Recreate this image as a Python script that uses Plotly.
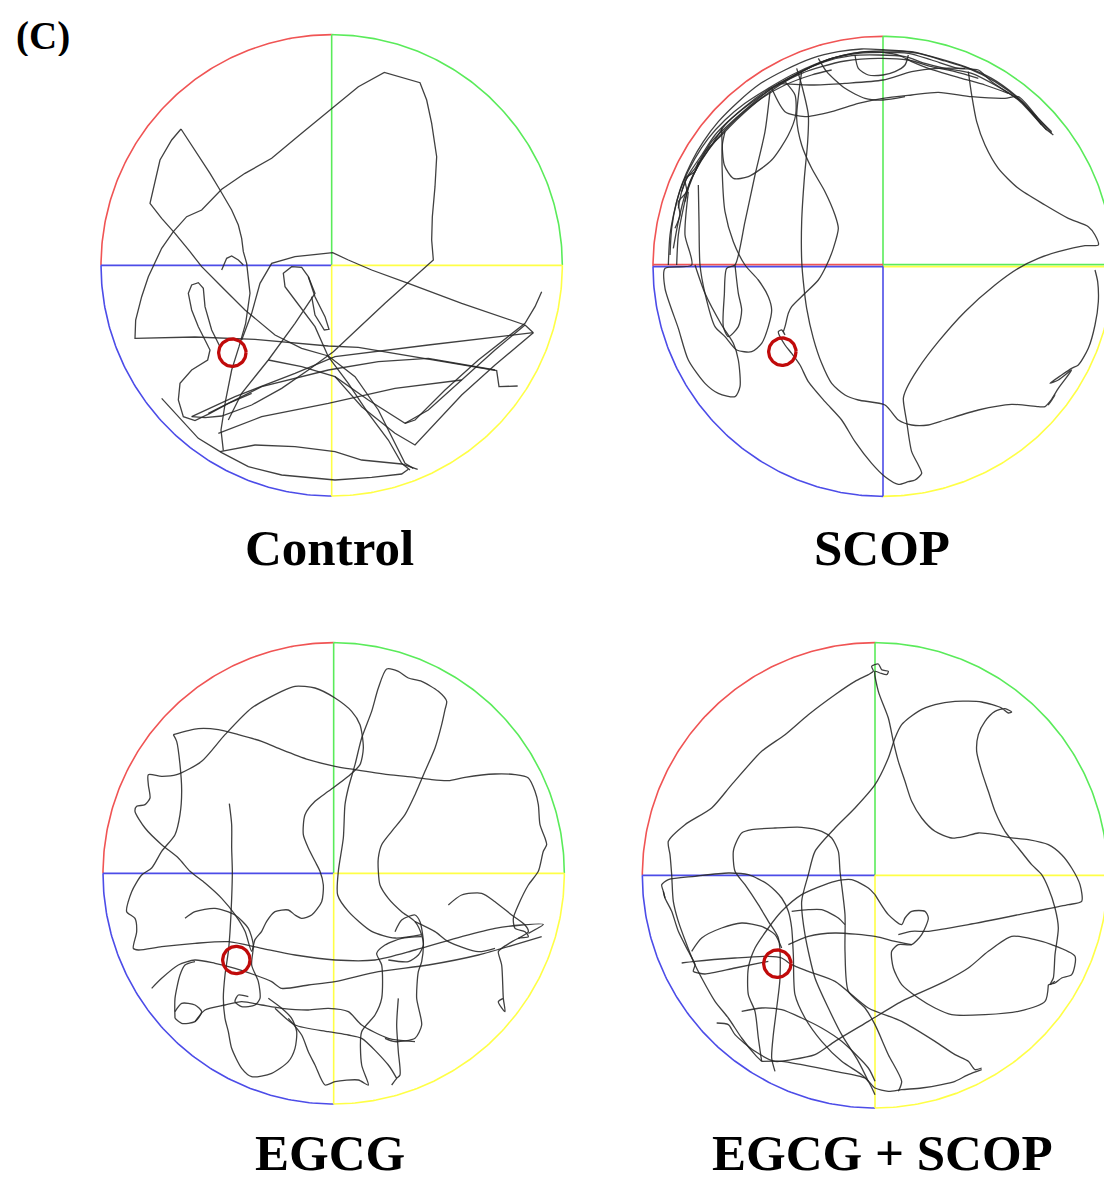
import numpy as np
import plotly.graph_objects as go

# ---------------------------------------------------------------------------
# Morris water maze probe-trial swim paths (tracking-camera units, y down)
# ---------------------------------------------------------------------------
GROUP_LABELS = ["Control", "SCOP", "EGCG", "EGCG + SCOP"]
PANEL_LABEL = "(C)"

# pool calibration in camera units: centre x, centre y, radius
POOL_CENTRES = [(710, 706), (714, 694), (716, 706), (720, 712)]
POOL_RADII = [692, 690, 692, 698]
# hidden platform (target quadrant: bottom-left) in camera units
PLATFORM_CENTRES = [(412, 968), (412, 950), (424, 966), (427, 977)]
PLATFORM_RADIUS = 41

CONTROL_PATHS = [
    [(1268, 1068), (1212, 1070), (1205, 1022), (1000, 988), (790, 952), (700, 948), (480, 928), (300, 921),
     (150, 925), (120, 925), (122, 870), (140, 800), (160, 740), (178, 700), (200, 655), (235, 605), (275, 560),
     (320, 540), (380, 478), (450, 430), (530, 385), (620, 310), (715, 232), (790, 170), (868, 127), (975, 158),
     (995, 210), (1010, 280), (1025, 380), (1020, 470), (1012, 560), (1010, 630), (1015, 690), (990, 712),
     (950, 748), (870, 820), (790, 895), (715, 965), (640, 1020), (560, 1075), (470, 1125), (380, 1158),
     (330, 1163), (290, 1160)],
    [(258, 297), (230, 330), (195, 390), (180, 460), (165, 520), (200, 565), (240, 610), (285, 665), (320, 710),
     (380, 770), (450, 840), (540, 915), (620, 955), (700, 978), (780, 1040), (850, 1140), (905, 1250),
     (930, 1300), (955, 1315)],
    [(258, 297), (300, 360), (345, 430), (375, 480), (410, 540), (430, 585), (440, 625), (445, 665), (455, 700),
     (465, 790), (452, 880), (432, 950), (410, 1020), (392, 1110), (378, 1200), (385, 1262)],
    [(440, 930), (470, 850), (495, 760), (530, 700), (600, 680), (713, 668), (760, 690), (830, 720), (940, 760),
     (1100, 820), (1290, 885), (1200, 960), (1100, 1050), (1000, 1140), (930, 1180), (820, 1110), (720, 1040),
     (620, 1010), (520, 990)],
    [(400, 1170), (440, 1090), (520, 990), (600, 880), (660, 790), (640, 740), (620, 712), (590, 710),
     (565, 730), (570, 770), (600, 810), (660, 890), (700, 980), (760, 1060), (820, 1150), (880, 1230),
     (920, 1300), (945, 1320)],
    [(640, 740), (660, 800), (690, 860), (702, 898), (688, 900), (660, 855), (650, 800)],
    [(470, 1090), (400, 1120), (345, 1150), (300, 1172), (265, 1160), (250, 1110), (255, 1060), (290, 1020),
     (338, 990), (345, 960), (330, 930), (310, 890), (290, 840), (280, 790), (290, 765), (310, 758), (325, 775),
     (330, 830), (350, 900), (375, 950)],
    [(200, 1105), (250, 1160), (310, 1225), (380, 1268), (460, 1310), (560, 1335), (720, 1350), (830, 1342),
     (920, 1332), (940, 1318)],
    [(375, 1265), (480, 1245), (600, 1250), (720, 1265), (800, 1290), (920, 1302), (968, 1318)],
    [(290, 1160), (420, 1100), (600, 1030), (720, 980), (1000, 945), (1315, 908), (1290, 885)],
    [(340, 1150), (500, 1070), (700, 1020), (850, 995), (1000, 985), (1200, 1020)],
    [(1340, 785), (1320, 830), (1290, 880), (1150, 990), (1050, 1080), (960, 1170), (930, 1180)],
    [(1315, 908), (1200, 1005), (1100, 1095), (960, 1245), (900, 1210), (800, 1130), (720, 1040)],
    [(370, 1210), (500, 1160), (700, 1120), (900, 1075), (1100, 1050)],
    [(380, 720), (395, 685), (410, 678), (430, 690), (445, 705)],
]

SCOP_PATHS = [
    [(70, 690), (75, 600), (90, 520), (110, 450), (140, 380), (175, 320), (220, 260), (280, 200), (340, 150),
     (420, 105), (500, 70), (580, 50), (650, 42), (714, 44), (800, 50), (880, 70), (960, 95), (1040, 130),
     (1110, 180), (1170, 240), (1220, 295)],
    [(95, 690), (100, 600), (115, 520), (130, 460), (160, 390), (200, 330), (240, 270), (300, 215), (360, 170),
     (430, 130), (500, 95), (560, 70), (640, 55), (714, 52), (790, 55), (860, 75), (940, 100), (1000, 105),
     (1040, 140), (1100, 180), (1130, 200), (1200, 280), (1225, 300)],
    [(120, 500), (135, 440), (165, 380), (200, 320), (250, 270), (300, 225), (380, 160), (450, 120), (520, 85),
     (600, 60), (680, 50), (760, 60), (800, 80), (850, 100), (950, 130), (1020, 150), (1090, 175)],
    [(85, 640), (100, 560), (120, 480), (150, 410), (190, 345), (240, 285), (310, 220), (390, 160), (470, 110),
     (540, 80), (620, 62), (700, 60), (780, 65), (840, 85), (900, 100), (980, 115), (1050, 150), (1120, 195),
     (1190, 270)],
    [(110, 470), (125, 430), (150, 400), (180, 350), (230, 300), (280, 250), (350, 190), (420, 150), (500, 120),
     (560, 105)],
    [(75, 660), (80, 580), (95, 500), (115, 440), (150, 370), (190, 310), (240, 255), (300, 205), (370, 160),
     (440, 120), (510, 88), (590, 62), (660, 50), (740, 48), (820, 55), (900, 78), (970, 100), (1050, 140),
     (1130, 200), (1205, 285)],
    [(100, 520), (110, 470), (130, 420), (170, 360), (210, 300), (260, 250), (330, 195), (400, 150), (470, 115),
     (530, 95), (600, 78), (700, 70), (790, 75), (860, 95), (930, 110), (1000, 130)],
    [(90, 580), (105, 540), (100, 500), (125, 470), (120, 430), (150, 410), (160, 380)],
    [(380, 160), (420, 230), (480, 245), (560, 230), (640, 205), (714, 190), (800, 180), (880, 172), (980, 185),
     (1080, 190), (1120, 185), (1180, 250), (1220, 290)],
    [(400, 145), (500, 150), (600, 145), (714, 135), (800, 110), (880, 100), (960, 100)],
    [(520, 70), (545, 110), (600, 160), (660, 190), (714, 195), (780, 185)],
    [(630, 60), (640, 100), (670, 120), (714, 120), (750, 110), (780, 90), (790, 60)],
    [(970, 110), (980, 180), (995, 260), (1020, 330), (1060, 400), (1120, 460), (1200, 510), (1270, 550),
     (1330, 575), (1350, 600), (1360, 630), (1320, 632), (1240, 650), (1180, 670), (1120, 700), (1050, 750),
     (960, 830), (880, 920), (820, 1000), (785, 1060), (775, 1090), (785, 1160), (800, 1250), (820, 1290),
     (830, 1315), (810, 1335), (790, 1340), (760, 1348), (720, 1325), (680, 1285), (630, 1220), (590, 1155),
     (540, 1100), (490, 1040), (465, 990), (440, 955), (420, 930), (400, 890), (410, 885), (420, 900)],
    [(1350, 705), (1358, 740), (1360, 800), (1350, 870), (1330, 940), (1300, 990), (1280, 1000), (1250, 1020),
     (1215, 1045), (1240, 1035), (1280, 1005), (1240, 1060), (1210, 1110), (1230, 1080), (1200, 1115),
     (1180, 1115), (1100, 1108), (1000, 1125), (900, 1155), (850, 1170), (800, 1170), (760, 1155), (720, 1110),
     (640, 1095), (600, 1080), (560, 1045), (530, 985), (505, 910), (485, 820), (475, 740), (470, 675),
     (470, 560), (478, 430), (488, 320), (490, 240), (470, 150), (455, 100)],
    [(470, 110), (455, 250), (470, 330), (500, 400), (540, 470), (570, 540), (580, 580), (565, 640), (545, 690),
     (520, 735), (480, 775), (440, 815), (430, 835), (420, 875), (415, 890)],
    [(160, 450), (162, 560), (165, 690), (180, 775), (210, 875), (240, 905), (275, 945), (320, 950), (350, 925),
     (370, 875), (380, 825), (370, 785), (340, 735), (300, 690), (265, 620), (240, 530), (232, 420), (232, 330),
     (240, 290)],
    [(130, 470), (120, 600), (140, 690), (60, 700), (60, 760), (100, 880), (130, 975), (180, 1045), (220, 1075),
     (270, 1085), (285, 1055), (280, 975), (265, 925), (230, 870), (180, 775), (150, 690)],
    [(375, 170), (360, 290), (330, 420), (300, 560), (270, 690), (245, 700), (238, 780), (235, 875), (250, 905),
     (280, 875), (290, 825), (280, 775), (270, 690)],
    [(230, 280), (238, 390), (265, 430), (310, 425), (380, 375), (430, 300), (452, 240), (450, 180), (420, 140)],
]

EGCG_PATHS = [
    [(980, 890), (900, 900), (830, 880), (760, 820), (728, 771), (730, 700), (745, 600), (750, 500), (760, 450),
     (780, 380), (800, 300), (830, 220), (850, 150), (875, 93), (910, 100), (940, 120), (980, 130), (1030, 160),
     (1055, 190), (1050, 215), (1040, 260), (1020, 330), (990, 400), (960, 470), (930, 530), (890, 580),
     (860, 620), (850, 660), (850, 700), (855, 741), (880, 781), (920, 821), (960, 851), (980, 891), (985, 921),
     (970, 951), (940, 971), (880, 966)],
    [(470, 940), (450, 880), (420, 830), (380, 781), (330, 735), (285, 700), (250, 660), (200, 620), (150, 570),
     (120, 520), (125, 505), (150, 500), (165, 480), (160, 440), (160, 410), (200, 415), (245, 410), (320, 370),
     (390, 290), (470, 210), (560, 160), (600, 145), (660, 150), (720, 180), (770, 220), (795, 260), (805, 330),
     (795, 380), (760, 415), (700, 460), (660, 490), (630, 530), (625, 590), (640, 630), (660, 670), (675, 700),
     (685, 741), (680, 791), (650, 831), (620, 841), (600, 831), (580, 816), (540, 821), (515, 850), (500, 880),
     (480, 905), (470, 940)],
    [(235, 290), (310, 272), (370, 275), (430, 290), (500, 310), (560, 335), (640, 365), (720, 385), (780, 395),
     (880, 410), (960, 418), (1010, 425), (1060, 428), (1110, 418), (1200, 408), (1260, 410), (1300, 420),
     (1320, 460), (1330, 500), (1335, 560), (1350, 600), (1355, 620), (1345, 640), (1330, 700), (1300, 741),
     (1270, 801), (1255, 841), (1260, 871), (1290, 881), (1300, 896), (1270, 901), (1220, 931), (1210, 941),
     (1220, 981), (1225, 1081), (1230, 1121), (1210, 1091), (1225, 1081)],
    [(235, 290), (245, 310), (255, 380), (260, 460), (255, 530), (240, 590), (200, 640), (170, 690), (140, 711),
     (110, 761), (95, 821), (120, 841), (125, 881), (115, 931), (130, 936), (200, 926), (300, 916), (400, 911),
     (500, 931), (600, 951), (720, 966), (840, 966), (960, 936), (1100, 896), (1200, 871), (1280, 861),
     (1345, 859), (1300, 886)],
    [(403, 497), (410, 560), (410, 630), (412, 700), (410, 781), (405, 881), (400, 941), (390, 1011), (385, 1081),
     (390, 1141), (400, 1181), (410, 1231), (440, 1291), (470, 1316), (530, 1306), (580, 1271), (600, 1231),
     (605, 1181), (590, 1141), (560, 1111), (520, 1081)],
    [(270, 841), (300, 821), (360, 811), (420, 831), (460, 871), (475, 921), (470, 981), (490, 1031), (495, 1081),
     (480, 1101), (440, 1106), (420, 1091), (430, 1071), (460, 1076)],
    [(170, 1051), (200, 1021), (250, 981), (300, 966), (360, 976), (420, 991), (480, 1011), (530, 1031),
     (560, 1051), (640, 1041), (720, 1031), (850, 1001), (1000, 981), (1150, 951), (1340, 896)],
    [(300, 1151), (330, 1116), (390, 1101), (440, 1091), (500, 1101), (560, 1111), (640, 1116), (700, 1111),
     (760, 1121), (800, 1161), (880, 1201), (960, 1211)],
    [(240, 1141), (240, 1081), (255, 1011), (270, 981), (300, 971)],
    [(240, 1141), (260, 1156), (300, 1151), (320, 1121), (300, 1101), (260, 1096), (240, 1121)],
    [(580, 1141), (620, 1191), (640, 1241), (660, 1281), (690, 1341), (720, 1331), (790, 1326), (820, 1341),
     (800, 1281), (800, 1181), (840, 1131), (860, 1081), (860, 981), (845, 946), (870, 921), (920, 901),
     (980, 896)],
    [(900, 881), (920, 846), (960, 831), (975, 851), (985, 911), (980, 971), (970, 1001), (965, 1081),
     (980, 1161), (960, 1201), (900, 1211), (870, 1201)],
    [(910, 1081), (905, 1161), (910, 1241), (915, 1311), (905, 1321), (890, 1341)],
    [(1060, 801), (1100, 771), (1160, 766), (1200, 791), (1250, 831), (1290, 861), (1300, 881), (1270, 901)],
    [(540, 1111), (600, 1161), (700, 1181), (760, 1191), (800, 1201), (880, 1281), (905, 1321)],
    [(960, 851), (1020, 881), (1060, 911), (1150, 941), (1200, 931)],
]

EGCG_SCOP_PATHS = [
    [(380, 1270), (360, 1250), (320, 1200), (280, 1140), (240, 1090), (200, 1020), (175, 970), (130, 850),
     (115, 790), (110, 710), (105, 650), (100, 610), (150, 560), (230, 510), (290, 440), (380, 340), (450, 290),
     (520, 230), (600, 170), (660, 130), (700, 110), (715, 100), (710, 85), (730, 78), (740, 95), (760, 100),
     (755, 110), (735, 105), (720, 100), (730, 160), (760, 240), (775, 310), (790, 370), (810, 430), (830, 490),
     (860, 540), (900, 580), (950, 600), (990, 595), (1030, 585), (1080, 590), (1120, 598), (1180, 605),
     (1240, 620), (1280, 650), (1310, 690), (1335, 740), (1340, 790), (1300, 800), (1200, 820), (1000, 860),
     (880, 880), (830, 880), (790, 890)],
    [(700, 1330), (670, 1270), (620, 1190), (580, 1110), (540, 1020), (510, 890), (500, 790), (520, 710),
     (540, 640), (600, 570), (660, 510), (720, 440), (760, 360), (780, 300), (800, 260), (850, 220), (900, 200),
     (960, 190), (1040, 192), (1100, 210), (1120, 225), (1130, 222), (1110, 212), (1080, 220), (1050, 250),
     (1030, 290), (1025, 340), (1040, 400), (1060, 460), (1080, 520), (1110, 580), (1150, 630), (1190, 680),
     (1220, 710), (1240, 750), (1260, 810), (1270, 870), (1260, 950), (1255, 1020), (1245, 1040), (1260, 1030)],
    [(790, 1360), (800, 1330), (760, 1250), (720, 1160), (690, 1110), (640, 1060), (630, 940), (630, 830),
     (615, 700), (610, 640), (590, 600), (560, 580), (500, 568), (420, 570), (350, 575), (320, 585), (305, 610),
     (295, 640), (300, 700), (330, 740), (370, 800), (400, 850), (430, 900), (435, 1020), (425, 1110),
     (415, 1190), (410, 1260), (420, 1300)],
    [(90, 780), (85, 760), (80, 740), (100, 725), (180, 715), (280, 705), (340, 710), (400, 740), (440, 780),
     (460, 820), (470, 870), (475, 950), (480, 1070), (510, 1140), (560, 1210), (620, 1270), (680, 1310),
     (700, 1330), (720, 1370)],
    [(85, 760), (90, 780), (110, 820), (130, 880), (160, 940), (180, 980), (175, 1000), (190, 1005), (210, 1008),
     (300, 990), (400, 970)],
    [(140, 975), (180, 970), (300, 960), (400, 955), (440, 960), (470, 980), (520, 1000), (600, 1030),
     (700, 1110), (800, 1150), (900, 1210), (960, 1250), (1000, 1270), (1020, 1295), (1040, 1290)],
    [(245, 1155), (280, 1160), (300, 1190), (360, 1240), (420, 1270), (470, 1265), (540, 1250), (600, 1210),
     (700, 1150), (800, 1090), (930, 1030), (1000, 990), (1060, 940), (1130, 895), (1200, 905), (1250, 920),
     (1320, 955), (1310, 1010), (1280, 1020), (1260, 1035), (1240, 1040)],
    [(380, 1270), (440, 1270), (500, 1280), (600, 1300), (690, 1320), (720, 1350), (760, 1360), (800, 1355),
     (860, 1350), (920, 1340), (960, 1330), (1000, 1310), (1040, 1295)],
    [(320, 1120), (380, 1110), (440, 1115), (500, 1140), (560, 1170), (620, 1210), (700, 1290), (720, 1330)],
    [(720, 770), (760, 830), (800, 860), (810, 840), (830, 820), (870, 820), (880, 840), (860, 890), (830, 920),
     (790, 920), (770, 940), (775, 990), (800, 1040), (850, 1080), (900, 1110), (950, 1130), (1050, 1130),
     (1150, 1120), (1230, 1090), (1240, 1040)],
    [(720, 770), (700, 750), (650, 725), (600, 730), (500, 770), (440, 820), (400, 870), (360, 930), (340, 990),
     (340, 1070), (360, 1120), (370, 1200), (380, 1270)],
    [(460, 920), (520, 895), (600, 885), (720, 895), (780, 910), (830, 920)],
    [(470, 820), (520, 815), (560, 815), (610, 840), (630, 860)],
    [(170, 940), (200, 900), (260, 870), (320, 855), (380, 865), (420, 890), (440, 930)],
]

ALL_PATHS = [CONTROL_PATHS, SCOP_PATHS, EGCG_PATHS, EGCG_SCOP_PATHS]

# ---------------------------------------------------------------------------
# page placement of each camera frame (top-left, px) and camera -> px scale
# ---------------------------------------------------------------------------
W, H = 1104, 1178
FRAME_ORIGINS = [(95, 30), (645, 35), (95, 638), (635, 638)]
PX_PER_UNIT = 1 / 3
LABEL_POS = [(329, 548), (882, 548), (330, 1153), (882, 1153)]

RED, GREEN, BLUE, YELLOW = "rgb(240,84,84)", "rgb(90,235,90)", "rgb(76,76,232)", "rgb(255,255,70)"
QUAD_ARCS = [((90, 180), RED), ((0, 90), GREEN), ((180, 270), BLUE), ((270, 360), YELLOW)]
# quadrant divider spokes: (angle, colour, offset in camera units perpendicular to the spoke)
SPOKES_DEFAULT = [(90, GREEN, 0), (180, BLUE, 0), (0, YELLOW, 0), (270, YELLOW, 0)]
SPOKES_SPLIT = [(90, GREEN, 0), (180, RED, -5), (180, BLUE, 1), (0, GREEN, -5), (0, YELLOW, 1),
                (270, BLUE, 0)]
POOL_SPOKES = [SPOKES_DEFAULT, SPOKES_SPLIT, SPOKES_DEFAULT, SPOKES_DEFAULT]

PATH_COLOUR = "rgba(38,38,38,0.88)"
PLATFORM_COLOUR = "rgb(192,10,10)"
LABEL_FONT = dict(family="Liberation Serif", size=51, color="black", weight="bold")

fig = go.Figure()


def to_page(k, xs, ys):
    ox, oy = FRAME_ORIGINS[k]
    return ox + np.asarray(xs, float) * PX_PER_UNIT, oy + np.asarray(ys, float) * PX_PER_UNIT


def add_line(x, y, colour, width, smooth=None):
    line = dict(color=colour, width=width)
    if smooth:
        line.update(shape="spline", smoothing=smooth)
    fig.add_trace(go.Scatter(x=x, y=y, mode="lines", line=line, hoverinfo="skip", showlegend=False))


for k in range(4):
    cx, cy = POOL_CENTRES[k]
    r = POOL_RADII[k]

    # arena wall, one arc per quadrant
    for (a0, a1), colour in QUAD_ARCS:
        t = np.radians(np.linspace(a0, a1, 120))
        px, py = to_page(k, cx + r * np.cos(t), cy - r * np.sin(t))
        add_line(px, py, colour, 1.6)

    # quadrant dividers
    for ang, colour, off in POOL_SPOKES[k]:
        a = np.radians(ang)
        ex, ey = cx + r * np.cos(a), cy - r * np.sin(a)
        if ang in (0, 180):
            xs, ys = [cx, ex], [cy + off, ey + off]
        else:
            xs, ys = [cx + off, ex + off], [cy, ey]
        px, py = to_page(k, xs, ys)
        add_line(px, py, colour, 1.6)

    smooth = None if k == 0 else 0.7
    for seg in ALL_PATHS[k]:
        sx, sy = zip(*seg)
        px, py = to_page(k, sx, sy)
        add_line(px, py, PATH_COLOUR, 1.3, smooth)

    # platform ring
    bx, by = PLATFORM_CENTRES[k]
    t = np.linspace(0, 2 * np.pi, 80)
    px, py = to_page(k, bx + PLATFORM_RADIUS * np.cos(t), by + PLATFORM_RADIUS * np.sin(t))
    add_line(px, py, PLATFORM_COLOUR, 3.3)

    lx, ly = LABEL_POS[k]
    fig.add_annotation(x=lx, y=ly, xref="x", yref="y", text=GROUP_LABELS[k], showarrow=False,
                       xanchor="center", yanchor="middle", height=44, valign="middle",
                       font=LABEL_FONT)

fig.add_annotation(x=14, y=36, xref="x", yref="y", text=PANEL_LABEL, showarrow=False,
                   xanchor="left", yanchor="middle", height=40, valign="middle",
                   font=dict(family="Liberation Serif", size=39, color="black", weight="bold"))

fig.update_layout(
    width=W, height=H, margin=dict(l=0, r=0, t=0, b=0),
    paper_bgcolor="white", plot_bgcolor="white", showlegend=False,
    xaxis=dict(range=[0, W], visible=False, fixedrange=True),
    yaxis=dict(range=[H, 0], visible=False, fixedrange=True),
)
fig.write_html("out.html")
